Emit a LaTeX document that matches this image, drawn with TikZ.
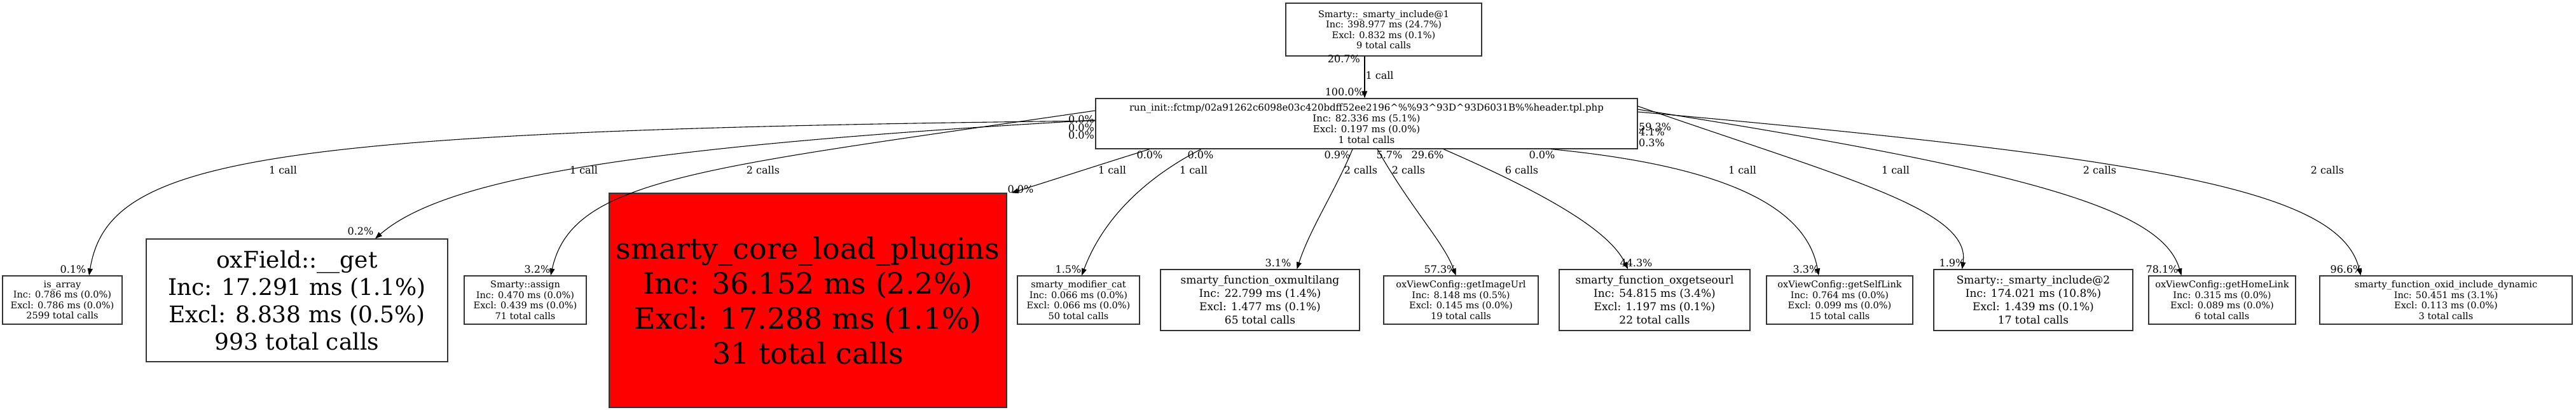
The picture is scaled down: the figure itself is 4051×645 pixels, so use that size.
\documentclass[tikz,border=0pt]{standalone}
\usepackage{fontspec}
\setmainfont{DejaVu Serif}
\usetikzlibrary{arrows.meta,calc}
\begin{document}
\begin{tikzpicture}[x=1pt,y=-1pt,
  box/.style={draw=black!80, line width=1.2pt, rectangle, inner sep=0pt, align=center},
  edge/.style={line width=1.1pt, -{Triangle[length=11pt,width=8pt]}},
  lab/.style={font=\fontsize{16}{18}\selectfont, inner sep=1pt},
  fs/.style={font=\fontsize{14.5}{16.5}\selectfont},
  fm/.style={font=\fontsize{17}{21}\selectfont},
]
\useasboundingbox (0,0) rectangle (4051,645);
% nodes
\node[box,fs,minimum width=308pt,minimum height=83pt] (top) at (2176,46.5) {Smarty::\_smarty\_include@1\\Inc: 398.977 ms (24.7\%)\\Excl: 0.832 ms (0.1\%)\\9 total calls};
\node[box,font=\fontsize{15}{17}\selectfont,minimum width=852pt,minimum height=79pt] (main) at (2149,194.5) {run\_init::fctmp/02a91262c6098e03c420bdff52ee2196\textasciicircum\%\%93\textasciicircum 93D\textasciicircum 93D6031B\%\%header.tpl.php\\Inc: 82.336 ms (5.1\%)\\Excl: 0.197 ms (0.0\%)\\1 total calls};
\node[box,fs,minimum width=188pt,minimum height=76pt] (isarr) at (98,472) {is\_array\\Inc: 0.786 ms (0.0\%)\\Excl: 0.786 ms (0.0\%)\\2599 total calls};
\node[box,font=\fontsize{36}{43}\selectfont,minimum width=474pt,minimum height=193pt] (oxfield) at (467,472.5) {oxField::\_\_get\\Inc: 17.291 ms (1.1\%)\\Excl: 8.838 ms (0.5\%)\\993 total calls};
\node[box,fs,minimum width=192pt,minimum height=76pt] (assign) at (826,472) {Smarty::assign\\Inc: 0.470 ms (0.0\%)\\Excl: 0.439 ms (0.0\%)\\71 total calls};
\node[box,fill=red,font=\fontsize{46}{55}\selectfont,minimum width=625pt,minimum height=337pt] (red) at (1270.5,472.5) {smarty\_core\_load\_plugins\\Inc: 36.152 ms (2.2\%)\\Excl: 17.288 ms (1.1\%)\\31 total calls};
\node[box,fs,minimum width=192pt,minimum height=76pt] (modcat) at (1696,472) {smarty\_modifier\_cat\\Inc: 0.066 ms (0.0\%)\\Excl: 0.066 ms (0.0\%)\\50 total calls};
\node[box,fm,minimum width=313pt,minimum height=96pt] (multilang) at (1981.5,472) {smarty\_function\_oxmultilang\\Inc: 22.799 ms (1.4\%)\\Excl: 1.477 ms (0.1\%)\\65 total calls};
\node[box,fs,minimum width=243pt,minimum height=76pt] (imgurl) at (2297.5,472) {oxViewConfig::getImageUrl\\Inc: 8.148 ms (0.5\%)\\Excl: 0.145 ms (0.0\%)\\19 total calls};
\node[box,fm,minimum width=300pt,minimum height=96pt] (seourl) at (2602,472) {smarty\_function\_oxgetseourl\\Inc: 54.815 ms (3.4\%)\\Excl: 1.197 ms (0.1\%)\\22 total calls};
\node[box,fs,minimum width=230pt,minimum height=76pt] (selflink) at (2893,472) {oxViewConfig::getSelfLink\\Inc: 0.764 ms (0.0\%)\\Excl: 0.099 ms (0.0\%)\\15 total calls};
\node[box,fm,minimum width=313pt,minimum height=96pt] (include2) at (3197.5,472) {Smarty::\_smarty\_include@2\\Inc: 174.021 ms (10.8\%)\\Excl: 1.439 ms (0.1\%)\\17 total calls};
\node[box,fs,minimum width=231pt,minimum height=76pt] (homelink) at (3494.5,472) {oxViewConfig::getHomeLink\\Inc: 0.315 ms (0.0\%)\\Excl: 0.089 ms (0.0\%)\\6 total calls};
\node[box,fs,minimum width=397pt,minimum height=76pt] (dynamic) at (3846.5,472) {smarty\_function\_oxid\_include\_dynamic\\Inc: 50.451 ms (3.1\%)\\Excl: 0.113 ms (0.0\%)\\3 total calls};
% edges
\draw[edge] ([xshift=-30pt]top.south) -- ([xshift=-3pt]main.north) node[pos=0.45,right,lab] {1 call};
\node[lab,anchor=south east] at (2140,100) {20.7\%};
\node[lab,anchor=south east] at (2146,152) {100.0\%};

\draw[edge] ([yshift=4.5pt]main.west) .. controls (400,205) and (170,250) .. ([xshift=42pt]isarr.north);
\draw[edge] ([yshift=5.5pt]main.west) .. controls (1000,230) and (700,280) .. ([xshift=123pt]oxfield.north);
\draw[edge] ([yshift=20.5pt]main.west) .. controls (1100,265) and (900,280) .. ([xshift=40pt]assign.north);
\draw[edge] ([xshift=-341pt]main.south) .. controls (1720,262) and (1650,285) .. ([xshift=7pt]red.north east);
\draw[edge] ([xshift=-260pt]main.south) .. controls (1820,270) and (1740,330) .. ([xshift=5pt]modcat.north);
\draw[edge] ([xshift=-22pt]main.south) .. controls (2100,300) and (2060,360) .. ([xshift=58pt]multilang.north);
\draw[edge] ([xshift=17pt]main.south) .. controls (2220,330) and (2270,380) .. ([xshift=-8pt]imgurl.north);
\draw[edge] ([xshift=121pt]main.south) .. controls (2420,300) and (2530,360) .. ([xshift=-42pt]seourl.north);
\draw[edge] ([xshift=290pt]main.south) .. controls (2700,260) and (2840,320) .. ([xshift=-33pt]selflink.north);
\draw[edge] ([yshift=27.5pt]main.east) .. controls (2900,280) and (3100,330) .. ([xshift=-112pt]include2.north);
\draw[edge] ([yshift=22.5pt]main.east) .. controls (3200,270) and (3400,330) .. ([xshift=-64pt]homelink.north);
\draw[edge] ([yshift=18.5pt]main.east) .. controls (3400,250) and (3680,300) .. ([xshift=-134pt]dynamic.north);
% labels
\node[lab] at (1200,268) {2 calls};
\node[lab] at (445,268) {1 call};
\node[lab] at (918,268) {1 call};
\node[lab] at (1749,268) {1 call};
\node[lab] at (1877,268) {1 call};
\node[lab] at (2140,268) {2 calls};
\node[lab] at (2215,268) {2 calls};
\node[lab] at (2393,268) {6 calls};
\node[lab] at (2740,268) {1 call};
\node[lab] at (2981,268) {1 call};
\node[lab] at (3302,268) {2 calls};
\node[lab] at (3660,268) {2 calls};
\node[lab,anchor=east] at (1722,188) {0.0\%};
\node[lab,anchor=east] at (1722,201) {0.0\%};
\node[lab,anchor=east] at (1722,213) {0.0\%};
\node[lab] at (1808,244) {0.0\%};
\node[lab] at (1888,244) {0.0\%};
\node[lab] at (2103,244) {0.9\%};
\node[lab] at (2185,244) {5.7\%};
\node[lab] at (2245,244) {29.6\%};
\node[lab] at (2425,244) {0.0\%};
\node[lab,anchor=west] at (2576,200) {59.3\%};
\node[lab,anchor=west] at (2576,208) {4.1\%};
\node[lab,anchor=west] at (2576,225) {0.3\%};
\node[lab] at (1605,298) {0.0\%};
\node[lab] at (567,364) {0.2\%};
\node[lab] at (115,424) {0.1\%};
\node[lab] at (845,424) {3.2\%};
\node[lab] at (1680,424) {1.5\%};
\node[lab] at (2010,414) {3.1\%};
\node[lab] at (2265,424) {57.3\%};
\node[lab] at (2573,414) {44.3\%};
\node[lab] at (2840,424) {3.3\%};
\node[lab] at (3070,414) {1.9\%};
\node[lab] at (3400,424) {78.1\%};
\node[lab] at (3690,424) {96.6\%};
\end{tikzpicture}
\end{document}
